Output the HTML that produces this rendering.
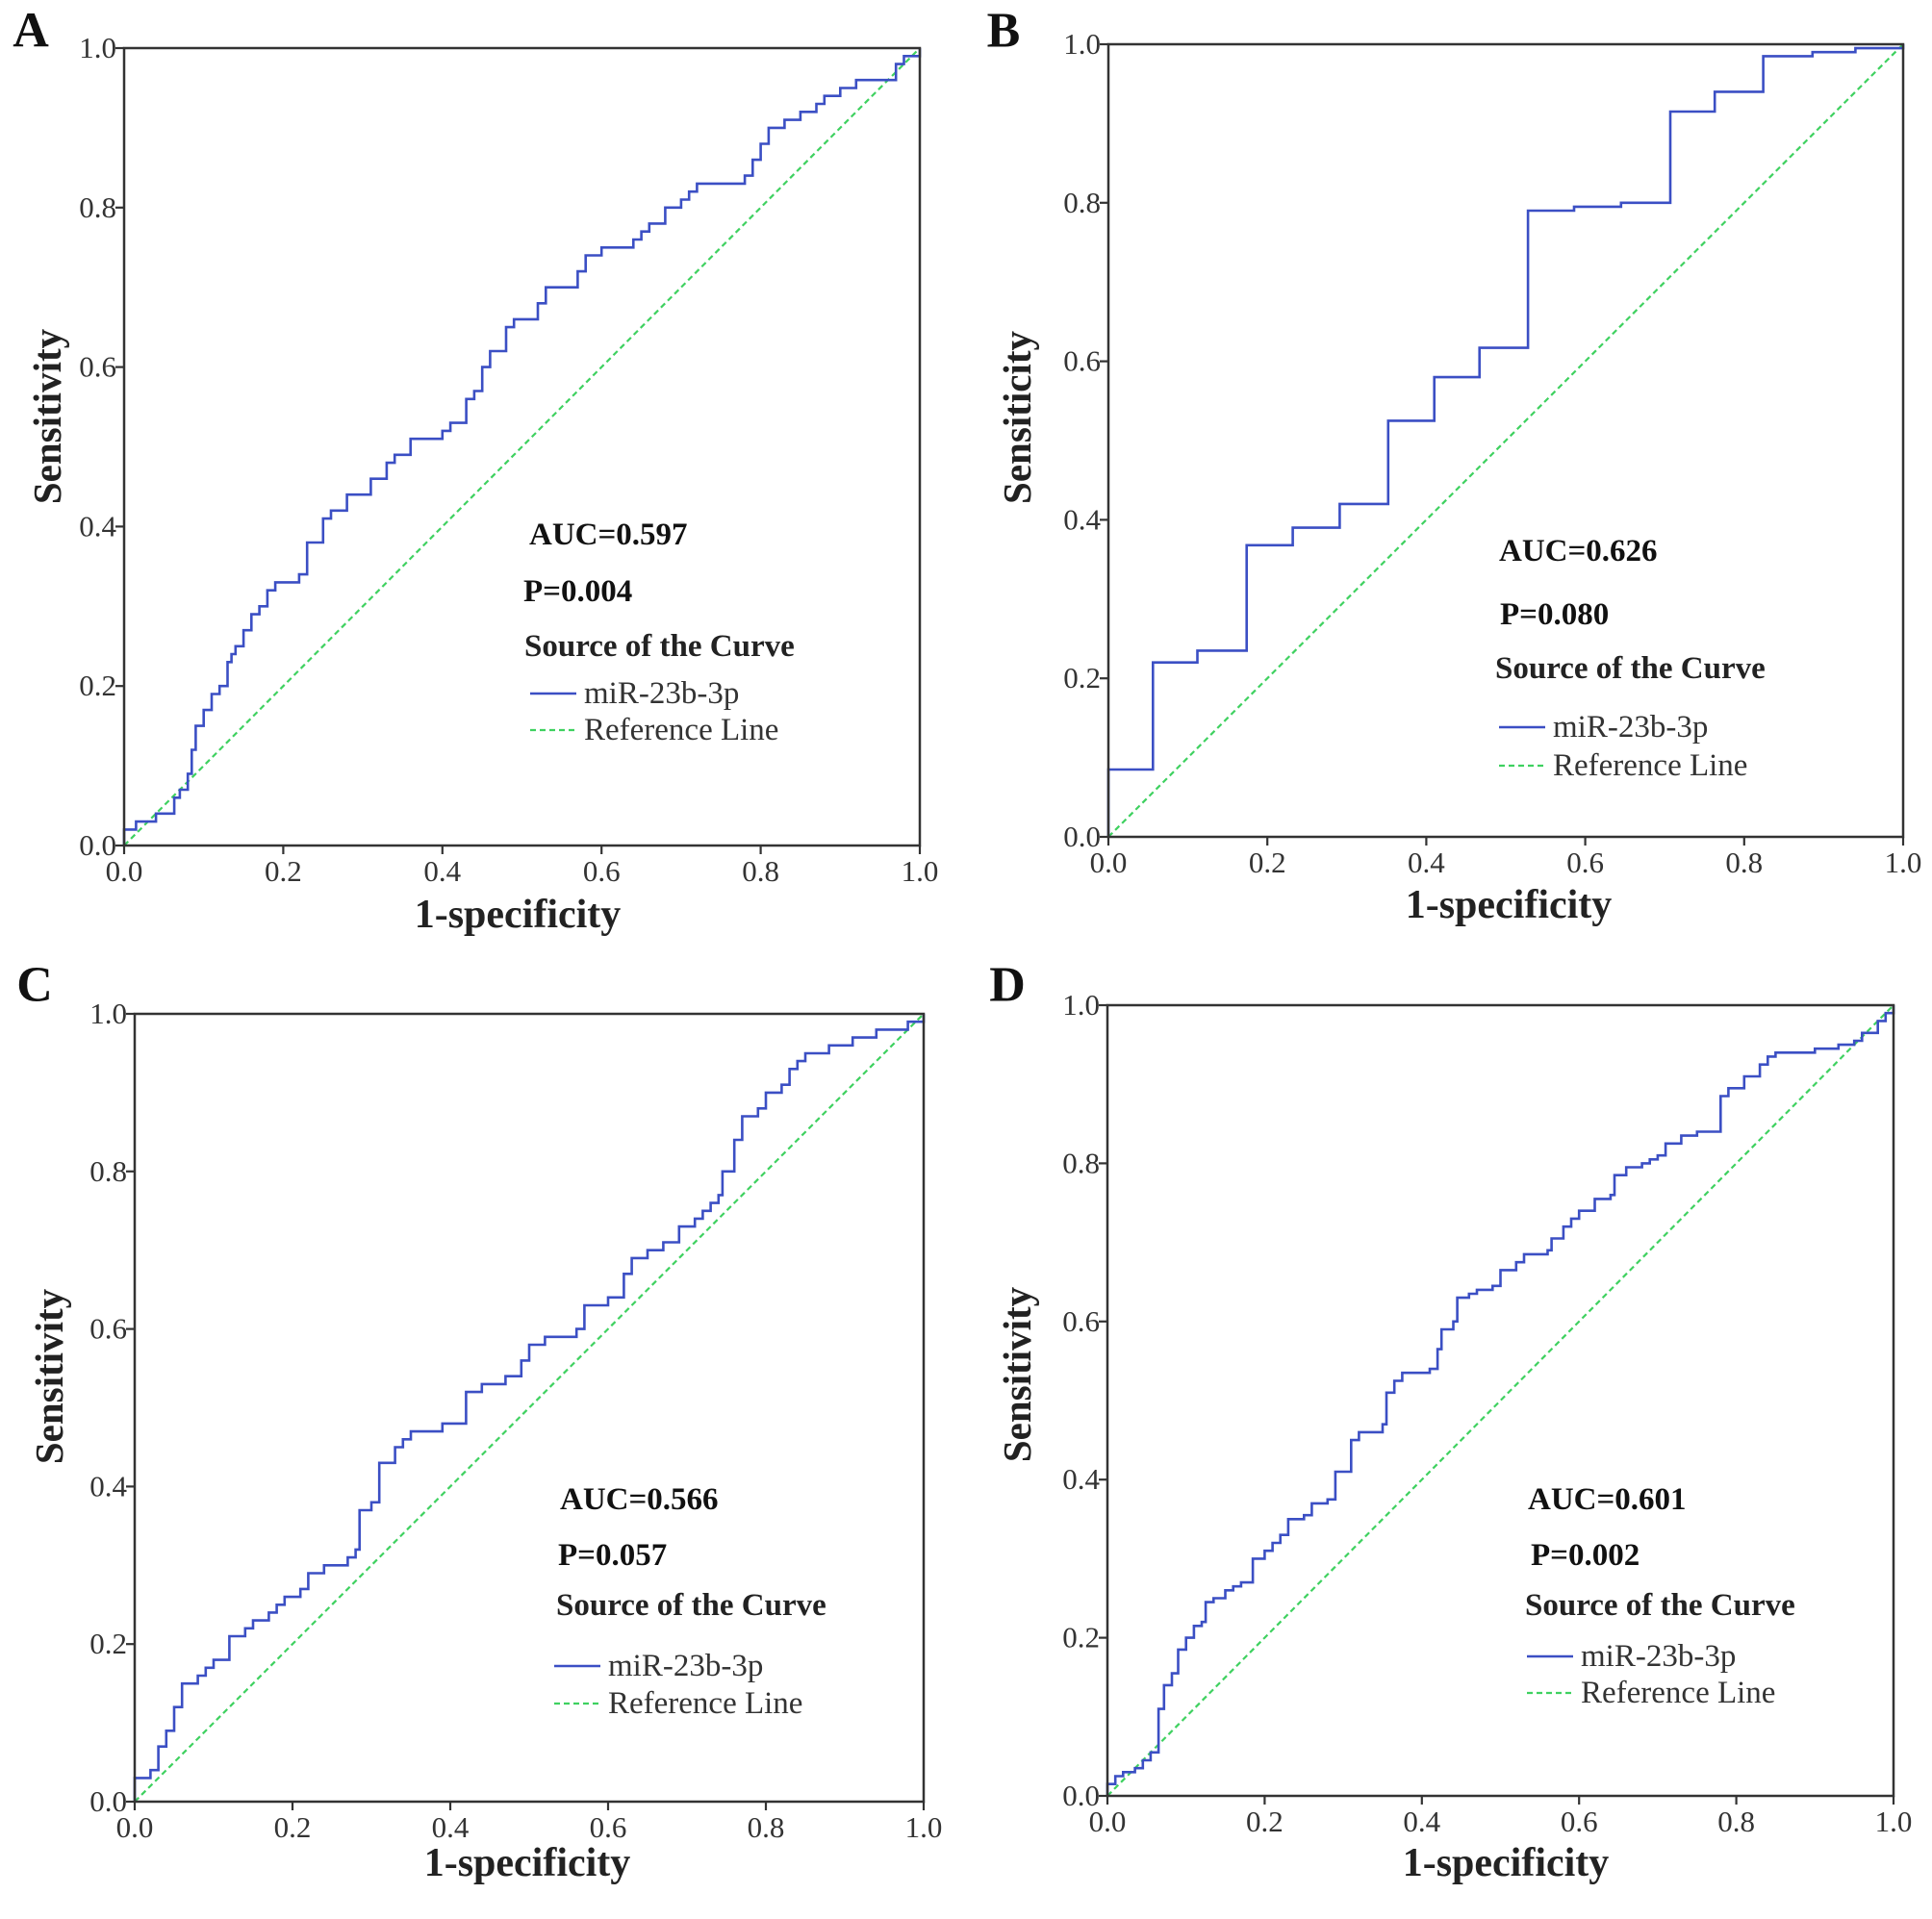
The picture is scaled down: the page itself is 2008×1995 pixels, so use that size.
<!DOCTYPE html>
<html><head><meta charset="utf-8"><style>
html,body{margin:0;padding:0;background:#fff;}
svg{display:block;font-family:"Liberation Serif",serif;}
</style></head><body>
<svg id="fig" width="2008" height="1995" viewBox="0 0 2008 1995" xmlns="http://www.w3.org/2000/svg"></svg>
<script>
const tickValues = [0, 0.2, 0.4, 0.6, 0.8, 1.0];
const tickLabels = ["0.0", "0.2", "0.4", "0.6", "0.8", "1.0"];

const fprA = [0,0.015,0.04,0.063,0.07,0.08,0.085,0.09,0.1,0.11,0.12,0.13,0.135,0.14,0.15,0.16,0.17,0.18,0.19,0.2,0.22,0.23,0.25,0.26,0.28,0.29,0.31,0.33,0.34,0.36,0.40,0.41,0.43,0.44,0.45,0.46,0.48,0.49,0.51,0.52,0.53,0.57,0.58,0.6,0.64,0.65,0.66,0.68,0.7,0.71,0.72,0.78,0.79,0.8,0.81,0.83,0.85,0.87,0.88,0.9,0.92,0.97,0.98,1.0];
const tprA = [0.02,0.03,0.04,0.06,0.07,0.09,0.12,0.15,0.17,0.19,0.2,0.23,0.24,0.25,0.27,0.29,0.3,0.32,0.33,0.33,0.34,0.38,0.41,0.42,0.44,0.44,0.46,0.48,0.49,0.51,0.52,0.53,0.56,0.57,0.6,0.62,0.65,0.66,0.66,0.68,0.7,0.72,0.74,0.75,0.76,0.77,0.78,0.8,0.81,0.82,0.83,0.84,0.86,0.88,0.9,0.91,0.92,0.93,0.94,0.95,0.96,0.98,0.99,1.0];

const fprB = [0,0.056,0.112,0.174,0.232,0.291,0.352,0.41,0.467,0.528,0.586,0.645,0.707,0.763,0.824,0.886,0.94,1.0];
const tprB = [0.085,0.22,0.235,0.368,0.39,0.42,0.525,0.58,0.617,0.79,0.795,0.80,0.915,0.94,0.985,0.99,0.995,1.0];

const fprC = [0,0.02,0.03,0.04,0.05,0.06,0.08,0.09,0.1,0.12,0.14,0.15,0.17,0.18,0.19,0.21,0.22,0.24,0.27,0.28,0.285,0.3,0.31,0.31,0.33,0.34,0.35,0.39,0.42,0.44,0.47,0.49,0.5,0.52,0.56,0.57,0.6,0.62,0.63,0.65,0.67,0.69,0.71,0.72,0.73,0.74,0.745,0.76,0.77,0.79,0.8,0.82,0.83,0.84,0.85,0.88,0.91,0.94,0.98,1.0];
const tprC = [0.03,0.04,0.07,0.09,0.12,0.15,0.16,0.17,0.18,0.21,0.22,0.23,0.24,0.25,0.26,0.27,0.29,0.30,0.31,0.32,0.37,0.38,0.40,0.43,0.45,0.46,0.47,0.48,0.52,0.53,0.54,0.56,0.58,0.59,0.60,0.63,0.64,0.67,0.69,0.70,0.71,0.73,0.74,0.75,0.76,0.77,0.8,0.84,0.87,0.88,0.9,0.91,0.93,0.94,0.95,0.96,0.97,0.98,0.99,1.0];

const fprD = [0,0.01,0.02,0.035,0.045,0.055,0.065,0.072,0.082,0.09,0.1,0.11,0.12,0.125,0.135,0.15,0.16,0.17,0.185,0.185,0.2,0.21,0.22,0.23,0.25,0.26,0.28,0.29,0.31,0.32,0.35,0.355,0.365,0.375,0.41,0.42,0.425,0.44,0.445,0.46,0.47,0.49,0.5,0.52,0.53,0.56,0.565,0.58,0.59,0.6,0.62,0.64,0.645,0.66,0.68,0.69,0.7,0.71,0.73,0.75,0.78,0.78,0.79,0.81,0.83,0.84,0.85,0.9,0.93,0.95,0.96,0.98,0.99,1.0];
const tprD = [0.015,0.025,0.03,0.035,0.045,0.055,0.11,0.14,0.155,0.185,0.2,0.215,0.22,0.245,0.25,0.26,0.265,0.27,0.27,0.3,0.31,0.32,0.33,0.35,0.355,0.37,0.375,0.41,0.45,0.46,0.47,0.51,0.525,0.535,0.54,0.565,0.59,0.6,0.63,0.635,0.64,0.645,0.665,0.675,0.685,0.69,0.705,0.72,0.73,0.74,0.755,0.76,0.785,0.795,0.8,0.805,0.81,0.825,0.835,0.84,0.845,0.885,0.895,0.91,0.925,0.935,0.94,0.945,0.95,0.955,0.965,0.98,0.99,1.0];

const panels = [
 {id:"a", letter:"A", fpr:fprA, tpr:tprA, auc:"AUC=0.597", p:"P=0.004", ytitle:"Sensitivity",
  box:[129,956,50,879], lx:32, ly:32, yt:[49,433], xt:[538,951],
  aucXY:[550,556], pXY:[544,615], srcXY:[545,672], legX:551, leg1:721, leg2:759},
 {id:"b", letter:"B", fpr:fprB, tpr:tprB, auc:"AUC=0.626", p:"P=0.080", ytitle:"Sensiticity",
  box:[1152,1978,46,870], lx:1043, ly:32, yt:[1057,434], xt:[1568,941],
  aucXY:[1558,573], pXY:[1559,639], srcXY:[1554,695], legX:1558, leg1:756, leg2:796},
 {id:"c", letter:"C", fpr:fprC, tpr:tprC, auc:"AUC=0.566", p:"P=0.057", ytitle:"Sensitivity",
  box:[140,960,1054,1873], lx:36, ly:1024, yt:[51,1431], xt:[548,1937],
  aucXY:[582,1559], pXY:[580,1617], srcXY:[578,1669], legX:576, leg1:1732, leg2:1771},
 {id:"d", letter:"D", fpr:fprD, tpr:tprD, auc:"AUC=0.601", p:"P=0.002", ytitle:"Sensitivity",
  box:[1151,1968,1045,1867], lx:1047, ly:1024, yt:[1057,1429], xt:[1565,1937],
  aucXY:[1588,1559], pXY:[1591,1617], srcXY:[1585,1669], legX:1587, leg1:1722, leg2:1760}
];

const NS = "http://www.w3.org/2000/svg";
const svg = document.getElementById("fig");
function mk(tag, attrs, parent, text){
  const e = document.createElementNS(NS, tag);
  for (const k in attrs) e.setAttribute(k, attrs[k]);
  if (text !== undefined) e.textContent = text;
  parent.appendChild(e);
  return e;
}

panels.forEach(P => {
  const [L,R,T,B] = P.box;
  const sx = v => L + v*(R-L);
  const sy = v => B - v*(B-T);
  const g = mk("g", {}, svg);
  
  

  const lab = mk("text", {x:P.lx, y:P.ly, "font-size":52, "font-weight":"bold", "text-anchor":"middle", "dominant-baseline":"central", fill:"#111"}, g, P.letter);
  
  

  const ref = mk("line", {x1:sx(0), y1:sy(0), x2:sx(1), y2:sy(1), stroke:"#3fd160", "stroke-width":2.2, "stroke-dasharray":"6,4"}, g);
  
  

  let d = "M" + sx(0) + "," + sy(0);
  let py = 0;
  for (let i=0;i<P.fpr.length;i++){
    d += " L" + sx(P.fpr[i]).toFixed(1) + "," + sy(py).toFixed(1);
    d += " L" + sx(P.fpr[i]).toFixed(1) + "," + sy(P.tpr[i]).toFixed(1);
    py = P.tpr[i];
  }
  const curve = mk("path", {d:d, fill:"none", stroke:"#3b4fc4", "stroke-width":2.6}, g);
  
  

  const frame = mk("rect", {x:L, y:T, width:R-L, height:B-T, fill:"none", stroke:"#333", "stroke-width":2.5}, g);
  
  

  tickValues.forEach((v,i) => {
    const ty = mk("line", {x1:L-9, y1:sy(v), x2:L, y2:sy(v), stroke:"#333", "stroke-width":2.2}, g);
    
    
    const tyl = mk("text", {x:L-8, y:sy(v)+10, "font-size":31, "text-anchor":"end", fill:"#333"}, g, tickLabels[i]);
    
    
    const tx = mk("line", {x1:sx(v), y1:B, x2:sx(v), y2:B+9, stroke:"#333", "stroke-width":2.2}, g);
    
    
    const txl = mk("text", {x:sx(v), y:B+37, "font-size":31, "text-anchor":"middle", fill:"#333"}, g, tickLabels[i]);
    
    
  });

  const yt = mk("text", {x:P.yt[0], y:P.yt[1], "font-size":41, "font-weight":"bold", "text-anchor":"middle", "dominant-baseline":"central", fill:"#222", transform:"rotate(-90 "+P.yt[0]+" "+P.yt[1]+")"}, g, P.ytitle);
  
  
  const xt = mk("text", {x:P.xt[0], y:P.xt[1], "font-size":42, "font-weight":"bold", "text-anchor":"middle", "dominant-baseline":"central", fill:"#222"}, g, "1-specificity");
  
  

  const auc = mk("text", {x:P.aucXY[0], y:P.aucXY[1], "font-size":33, "font-weight":"bold", "dominant-baseline":"central", fill:"#111"}, g, P.auc);
  
  
  const pv = mk("text", {x:P.pXY[0], y:P.pXY[1], "font-size":33, "font-weight":"bold", "dominant-baseline":"central", fill:"#111"}, g, P.p);
  
  
  const src = mk("text", {x:P.srcXY[0], y:P.srcXY[1], "font-size":33, "font-weight":"bold", "dominant-baseline":"central", fill:"#222"}, g, "Source of the Curve");
  
  

  const l1 = mk("line", {x1:P.legX, y1:P.leg1, x2:P.legX+48, y2:P.leg1, stroke:"#3b4fc4", "stroke-width":2.6}, g);
  
  
  const t1 = mk("text", {x:P.legX+56, y:P.leg1, "font-size":33, "dominant-baseline":"central", fill:"#333"}, g, "miR-23b-3p");
  
  
  const l2 = mk("line", {x1:P.legX, y1:P.leg2, x2:P.legX+48, y2:P.leg2, stroke:"#3fd160", "stroke-width":2.2, "stroke-dasharray":"6,4"}, g);
  
  
  const t2 = mk("text", {x:P.legX+56, y:P.leg2, "font-size":33, "dominant-baseline":"central", fill:"#333"}, g, "Reference Line");
  
  
});
</script>
</body></html>
